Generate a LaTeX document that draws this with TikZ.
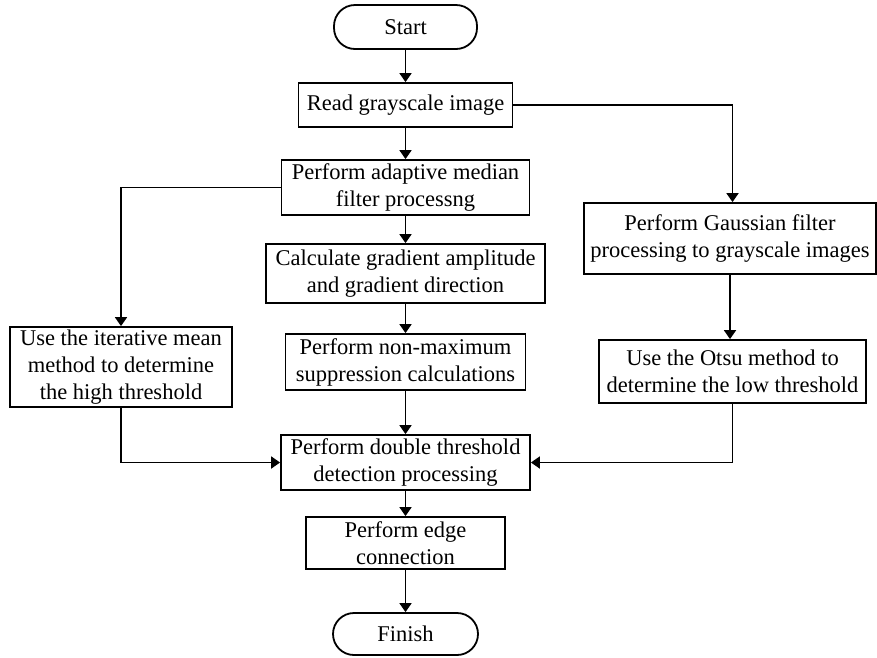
\documentclass[tikz,border=0pt]{standalone}
\usepackage{fontspec}
\setmainfont{Liberation Serif}
\usetikzlibrary{arrows.meta}
\begin{document}
\begin{tikzpicture}[x=1pt,y=-1pt,
  box/.style={draw,line width=1.8pt,align=center,inner sep=0pt,font=\fontsize{22.5}{27}\selectfont},
  term/.style={box,rounded corners=21pt},
  arr/.style={line width=1.8pt,-{Triangle[width=12pt,length=9pt]}}]
\useasboundingbox (0,0) rectangle (877,657);
\node[term,minimum width=143pt,minimum height=44pt] (start) at (405.5,27) {Start};
\node[box,minimum width=214pt,minimum height=44pt] (read) at (405.5,105) {Read grayscale image};
\node[box,minimum width=248pt,minimum height=55pt] (adapt) at (405.5,187.5) {Perform adaptive median\\filter processng};
\node[box,minimum width=279pt,minimum height=59pt] (calc) at (405.5,273.5) {Calculate gradient amplitude\\and gradient direction};
\node[box,minimum width=240pt,minimum height=56pt] (nonmax) at (405.5,362) {Perform non-maximum\\suppression calculations};
\node[box,minimum width=222pt,minimum height=80pt] (iter) at (121,367) {Use the iterative mean\\method to determine\\the high threshold};
\node[box,minimum width=292pt,minimum height=71pt] (gauss) at (730,238.5) {Perform Gaussian filter\\processing to grayscale images};
\node[box,minimum width=267pt,minimum height=63pt] (otsu) at (732.5,371.5) {Use the Otsu method to\\determine the low threshold};
\node[box,minimum width=249pt,minimum height=55pt] (double) at (405.5,462.5) {Perform double threshold\\detection processing};
\node[box,minimum width=199pt,minimum height=52pt] (edge) at (405.5,543) {Perform edge\\connection};
\node[term,minimum width=145pt,minimum height=42pt] (finish) at (405.5,634) {Finish};
\draw[arr] (start) -- (read);
\draw[arr] (read) -- (adapt);
\draw[arr] (adapt) -- (calc);
\draw[arr] (calc) -- (nonmax);
\draw[arr] (nonmax) -- (double);
\draw[arr] (double) -- (edge);
\draw[arr] (edge) -- (finish);
\draw[arr] (adapt.west) -| (iter.north);
\draw[arr] (read.east) -| (otsu.north |- gauss.north);
\draw[arr] (gauss) -- (gauss.south |- otsu.north);
\draw[arr] (iter.south) |- (double.west);
\draw[arr] (otsu.south) |- (double.east);
\end{tikzpicture}
\end{document}
